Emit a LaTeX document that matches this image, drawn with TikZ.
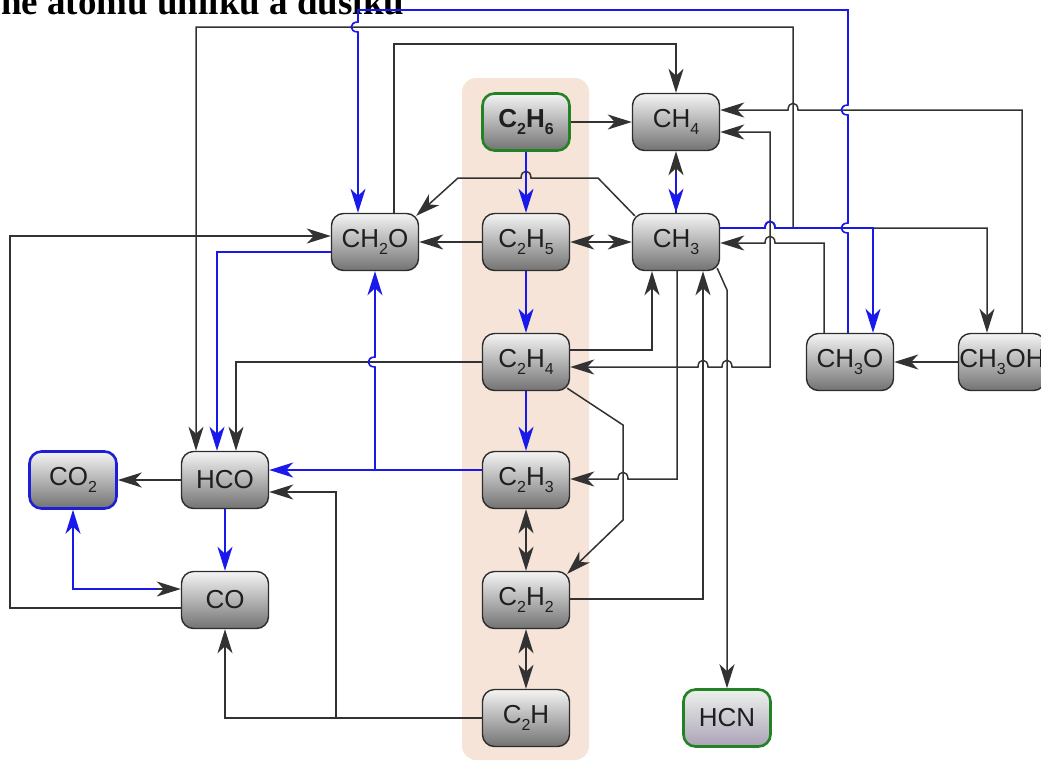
\documentclass[tikz,border=0pt]{standalone}
\usepackage{fontspec}
\usetikzlibrary{arrows.meta,calc}
\newfontfamily\molfont{Liberation Sans}
\newfontfamily\titlefont{Liberation Serif}
\newcommand{\chsub}[1]{\raisebox{-0.3em}{\fontsize{16}{16}\selectfont #1}}
\definecolor{edgegray}{RGB}{50,50,50}
\definecolor{edgeblue}{RGB}{25,25,235}
\definecolor{boxborder}{RGB}{45,45,45}
\definecolor{boxtop}{RGB}{244,244,244}
\definecolor{boxbot}{RGB}{115,115,115}
\definecolor{hcntop}{RGB}{236,241,236}
\definecolor{hcnbot}{RGB}{172,162,184}
\definecolor{greenborder}{RGB}{35,130,35}
\definecolor{blueborder}{RGB}{30,30,215}
\definecolor{bandcol}{RGB}{245,228,215}
\tikzset{
  mol/.style={rectangle, rounded corners=12pt, draw=boxborder, line width=1.4pt,
    top color=boxtop, bottom color=boxbot, minimum width=87pt, minimum height=57pt,
    inner sep=0pt, font=\molfont\fontsize{26}{26}\selectfont, text=black!88},
  greenb/.style={draw=greenborder, line width=2.6pt},
  blueb/.style={draw=blueborder, line width=2.6pt},
  hcnshade/.style={top color=hcntop, bottom color=hcnbot},
  blk/.style={draw=edgegray, line width=1.5pt},
  blu/.style={draw=edgeblue, line width=1.6pt},
  >={Stealth[length=24pt,width=15pt,inset=7pt]},
}
\begin{document}
\begin{tikzpicture}[x=1pt,y=-1pt]
\useasboundingbox (0,0) rectangle (1041,761);
\clip (0,0) rectangle (1041,761);
% background band
\fill[bandcol, rounded corners=14pt] (462,78) rectangle (589,760);
% title (cut off at the top)
\node[anchor=base west, inner sep=0pt, font=\titlefont\bfseries\fontsize{37}{37}\selectfont] (title) at (1,14) {ne atomů uhlíku a dusíku};
% nodes
\node[mol, greenb] (C2H6) at (526,122) {\bfseries C\chsub{2}H\chsub{6}};
\node[mol] (CH4) at (676,122) {CH\chsub{4}};
\node[mol] (CH2O) at (375,242) {CH\chsub{2}O};
\node[mol] (C2H5) at (526,242) {C\chsub{2}H\chsub{5}};
\node[mol] (CH3) at (676,242) {CH\chsub{3}};
\node[mol] (CH3O) at (850,362) {CH\chsub{3}O};
\node[mol] (CH3OH) at (1002,362) {CH\chsub{3}OH};
\node[mol] (C2H4) at (526,362) {C\chsub{2}H\chsub{4}};
\node[mol, blueb] (CO2) at (73,480) {CO\chsub{2}};
\node[mol] (HCO) at (225,480) {HCO};
\node[mol] (C2H3) at (526,480) {C\chsub{2}H\chsub{3}};
\node[mol] (CO) at (225,600) {CO};
\node[mol] (C2H2) at (526,600) {C\chsub{2}H\chsub{2}};
\node[mol] (C2H) at (526,718) {C\chsub{2}H};
\node[mol, greenb, hcnshade] (HCN) at (727,718) {HCN};
% ---------- black connectors ----------
\draw[blk,->] (C2H6.east) -- (CH4.west);
\draw[blk,->] ([shift={(3,3)}]CH3.north west) -- (598,178) -- (531,178)
   .. controls (531,169) and (521,169) .. (521,178) -- (458,178) -- ([shift={(-3,3)}]CH2O.north east);
\draw[blk,->] (C2H5.west) -- (CH2O.east);
\draw[blk,<->] (C2H5.east) -- (CH3.west);
\draw[blk,->] (CH3.north) -- (CH4.south);
\draw[blk,->] (CH3.east |- 0,228) -- (765,228) .. controls (765,219) and (775,219) .. (775,228)
   -- (793,228) -- (793,27) -- (196,27) -- (196,0 |- HCO.north);
\draw[blk,->] (CH3.east |- 0,228) -- (765,228) .. controls (765,219) and (775,219) .. (775,228)
   -- (987,228) -- (987,0 |- CH3OH.north);
\draw[blk,->] (1022,0 |- CH3OH.north) -- (1022,110) -- (798,110)
   .. controls (798,101) and (788,101) .. (788,110) -- (CH4.east |- 0,110);
\draw[blk,<->] (CH4.east |- 0,132) -- (770,132) -- (770,367) -- (732,367)
   .. controls (732,358) and (722,358) .. (722,367) -- (708,367)
   .. controls (708,358) and (698,358) .. (698,367) -- (C2H4.east |- 0,367);
\draw[blk,->] (824,0 |- CH3O.north) -- (824,243) -- (775,243)
   .. controls (775,234) and (765,234) .. (765,243) -- (CH3.east |- 0,243);
\draw[blk,->] (CH3OH.west) -- (CH3O.east);
\draw[blk,->] (C2H4.east |- 0,350) -| (652,0 |- CH3.south);
\draw[blk,->] (677,0 |- CH3.south) -- (677,479) -- (628,479)
   .. controls (628,470) and (618,470) .. (618,479) -- (C2H3.east |- 0,479);
\draw[blk,->] (C2H2.east |- 0,599) -- (703,599) -- (703,0 |- CH3.south);
\draw[blk,->] ([shift={(-3,-3)}]CH3.south east) -- (727,290) -- (HCN.north);
\draw[blk,->] ([shift={(-3,-3)}]C2H4.south east) -- (623,425) -- (623,520) -- ([shift={(-3,3)}]C2H2.north east);
\draw[blk,->] (C2H4.west) -- (236,362) -- (236,0 |- HCO.north);
\draw[blk,->] (C2H.west) -| (CO.south);
\draw[blk,->] (336,0 |- C2H.west) -- (336,492) -- (HCO.east |- 0,492);
\draw[blk,->] (HCO.west) -- (CO2.east);
\draw[blk,->] (73,589) -- (CO.west |- 0,589);
\draw[blk,->] (CO.west |- 0,608) -- (10,608) -- (10,236) -- (CH2O.west |- 0,236);
\draw[blk,->] (394,0 |- CH2O.north) -- (394,44) -- (CH4.north |- 0,44) -- (CH4.north);
\draw[blk,<->] (C2H3.south) -- (C2H2.north);
\draw[blk,<->] (C2H2.south) -- (C2H.north);
% ---------- blue connectors ----------
\draw[blu,->] (C2H6.south) -- (C2H5.north);
\draw[blu,->] ([yshift=-22pt]CH4.south) -- (CH3.north);
\draw[blu,->] (C2H5.south) -- (C2H4.north);
\draw[blu,->] (C2H4.south) -- (C2H3.north);
\draw[blu,->] (CH2O.west |- 0,252) -| (217,0 |- HCO.north);
\draw[blu,->] (CH3.east |- 0,228) -- (765,228) .. controls (765,219) and (775,219) .. (775,228)
   -- (873,228) -- (873,0 |- CH3O.north);
\draw[blu,->] (848,0 |- CH3O.north) -- (848,233) .. controls (839,233) and (839,223) .. (848,223)
   -- (848,115) .. controls (839,115) and (839,105) .. (848,105) -- (848,10) -- (358,10)
   -- (358,22) .. controls (349,22) and (349,32) .. (358,32) -- (358,0 |- CH2O.north);
\draw[blu,->] (C2H3.west |- 0,470) -- (HCO.east |- 0,470);
\draw[blu,->] (375,470) -- (375,367) .. controls (366,367) and (366,357) .. (375,357) -- (CH2O.south);
\draw[blu,->] ($(CO.west |- 0,589)+(-24,0)$) -- (73,589) -- (CO2.south);
\draw[blu,->] (HCO.south) -- (CO.north);
\end{tikzpicture}
\end{document}
